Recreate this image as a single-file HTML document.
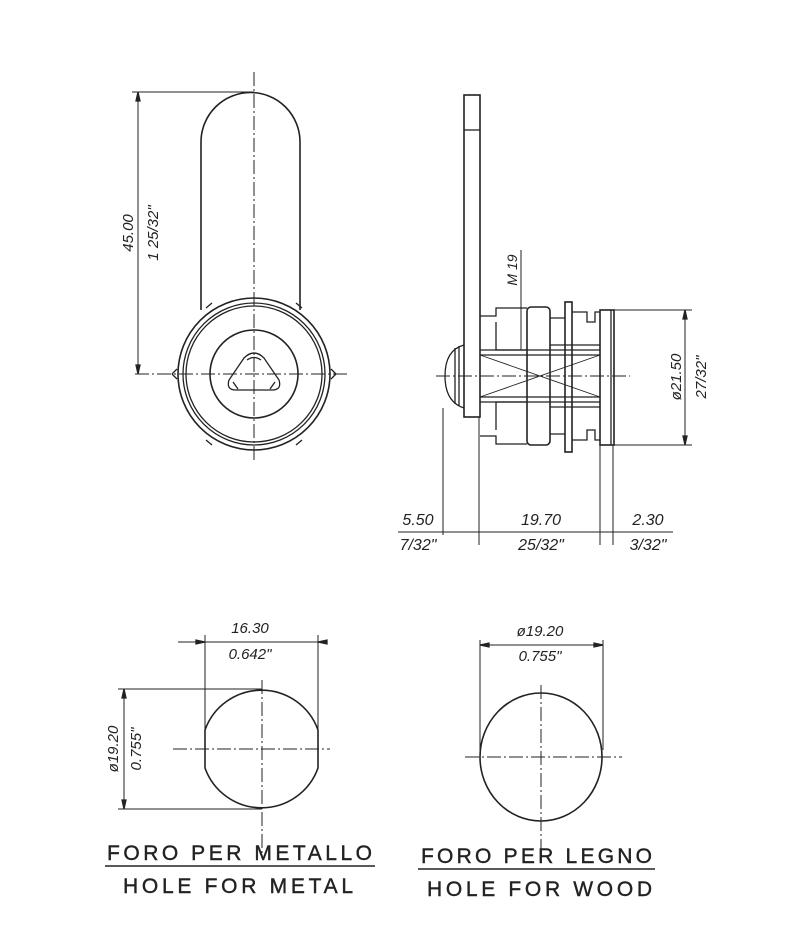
<!DOCTYPE html>
<html><head><style>body{margin:0;background:#fff}svg{display:block}text{font-family:"Liberation Sans",sans-serif;fill:#222}</style></head>
<body>
<svg width="800" height="950" viewBox="0 0 800 950" xmlns="http://www.w3.org/2000/svg" fill="none" stroke="#222" stroke-width="1.3">
<!-- LEFT FRONT VIEW -->
<g>
<path d="M201 310 V142 A49.5 49.5 0 0 1 300 142 V310" stroke-width="1.6"/>
<circle cx="254" cy="374" r="76" stroke-width="1.6"/>
<circle cx="254" cy="374" r="71"/>
<circle cx="254" cy="374" r="68"/>
<circle cx="254" cy="374" r="44" stroke-width="1.6"/>
<path d="M244 358 L229 380 Q226 390 236 390 L272 390 Q282 390 279 380 L264 358 Q254 348 244 358Z"/>
<path d="M233 382 L238 389 M275 382 L270 389 M247 360 Q254 355 261 360"/>
<path d="M172 374 l5 -5 M172 374 l5 5 M336 374 l-5 -5 M336 374 l-5 5"/>
<path d="M212 303 l-6 5 M296 303 l6 5 M212 445 l-6 -5 M296 445 l6 -5"/>
<line x1="254" y1="72" x2="254" y2="462" stroke-dasharray="14 3 2 3" stroke-width="1"/>
<line x1="135" y1="374" x2="348" y2="374" stroke-dasharray="14 3 2 3" stroke-width="1"/>
<line x1="132" y1="92" x2="254" y2="92" stroke-width="1"/>
<line x1="138" y1="92" x2="138" y2="374" stroke-width="1"/>
<path d="M138 92 l-2 9 h4z M138 374 l-2 -9 h4z" fill="#222"/>
<text transform="translate(133 233) rotate(-90)" font-size="15" font-style="italic" text-anchor="middle" stroke="none">45.00</text>
<text transform="translate(158 233) rotate(-90)" font-size="15" font-style="italic" text-anchor="middle" stroke="none">1 25/32"</text>
</g>
<!-- SIDE VIEW -->
<g>
<rect x="464" y="95" width="16" height="322" stroke-width="1.6"/>
<line x1="464" y1="130" x2="480" y2="130"/>
<path d="M464 345 Q445 350 445 376 Q445 402 464 408"/>
<path d="M455 348 V404 M459 346 V406"/>
<path d="M480 316 H496 V308 H527 M480 436 H496 V444 H527"/>
<path d="M496 322 V350 H527 M496 430 V402 H527"/>
<rect x="527" y="307" width="23" height="138" rx="4" stroke-width="1.6"/>
<rect x="565" y="302" width="7" height="150" stroke-width="1.6"/>
<path d="M550 318 H565 M550 434 H565"/>
<path d="M572 312 H587 V322 H595 V312 H600 M572 440 H587 V430 H595 V440 H600"/>
<rect x="600" y="310" width="14" height="135" stroke-width="1.6"/>
<line x1="611" y1="310" x2="611" y2="445"/>
<path d="M480 350 H600 M480 355 H600 M480 397 H600 M480 402 H600 M550 345 H600 M550 407 H600"/>
<path d="M480 355 L600 397 M480 397 L600 355" stroke-width="0.9"/>
<line x1="436" y1="376" x2="630" y2="376" stroke-dasharray="14 3 2 3" stroke-width="1"/>
<line x1="521" y1="250" x2="521" y2="350" stroke-width="1"/>
<text transform="translate(517 270) rotate(-90)" font-size="14" font-style="italic" text-anchor="middle" stroke="none">M 19</text>
<path d="M614 310 H692 M614 445 H692 M685 310 V445" stroke-width="1"/>
<path d="M685 310 l-2 9 h4z M685 445 l-2 -9 h4z" fill="#222"/>
<text transform="translate(681 377) rotate(-90)" font-size="15" font-style="italic" text-anchor="middle" stroke="none">ø21.50</text>
<text transform="translate(706 377) rotate(-90)" font-size="15" font-style="italic" text-anchor="middle" stroke="none">27/32"</text>
<path d="M443 408 V535 M479 417 V545 M600 445 V545 M613 445 V545" stroke-width="1"/>
<path d="M398 532 H673" stroke-width="1"/>
<text x="418" y="525" font-size="16" font-style="italic" text-anchor="middle" stroke="none">5.50</text>
<text x="418" y="550" font-size="16" font-style="italic" text-anchor="middle" stroke="none">7/32"</text>
<text x="541" y="525" font-size="16" font-style="italic" text-anchor="middle" stroke="none">19.70</text>
<text x="541" y="550" font-size="16" font-style="italic" text-anchor="middle" stroke="none">25/32"</text>
<text x="648" y="525" font-size="16" font-style="italic" text-anchor="middle" stroke="none">2.30</text>
<text x="648" y="550" font-size="16" font-style="italic" text-anchor="middle" stroke="none">3/32"</text>
</g>
<!-- HOLE FOR METAL -->
<g>
<path d="M205 730 A60 60 0 0 1 318 730 V768 A60 60 0 0 1 205 768 Z" stroke-width="1.6"/>
<line x1="262" y1="680" x2="262" y2="855" stroke-dasharray="14 3 2 3" stroke-width="1"/>
<line x1="173" y1="749" x2="330" y2="749" stroke-dasharray="14 3 2 3" stroke-width="1"/>
<path d="M205 760 V635 M318 740 V635 M178 642 H327" stroke-width="1"/>
<path d="M205 642 l-9 -2 v4z M318 642 l9 -2 v4z" fill="#222"/>
<text x="250" y="633" font-size="15" font-style="italic" text-anchor="middle" stroke="none">16.30</text>
<text x="250" y="659" font-size="15" font-style="italic" text-anchor="middle" stroke="none">0.642"</text>
<path d="M118 689 H262 M118 809 H262 M124 689 V809" stroke-width="1"/>
<path d="M124 689 l-2 9 h4z M124 809 l-2 -9 h4z" fill="#222"/>
<text transform="translate(118 749) rotate(-90)" font-size="15" font-style="italic" text-anchor="middle" stroke="none">ø19.20</text>
<text transform="translate(141 749) rotate(-90)" font-size="15" font-style="italic" text-anchor="middle" stroke="none">0.755"</text>
<text x="107" y="860" font-size="21" stroke="#222" stroke-width="0.4" textLength="265" lengthAdjust="spacing">FORO PER METALLO</text>
<line x1="105" y1="866" x2="375" y2="866" stroke-width="1.4"/>
<text x="123" y="893" font-size="21" stroke="#222" stroke-width="0.4" textLength="230" lengthAdjust="spacing">HOLE FOR METAL</text>
</g>
<!-- HOLE FOR WOOD -->
<g>
<ellipse cx="541" cy="757" rx="61" ry="64" stroke-width="1.6"/>
<line x1="541" y1="685" x2="541" y2="856" stroke-dasharray="14 3 2 3" stroke-width="1"/>
<line x1="465" y1="757" x2="622" y2="757" stroke-dasharray="14 3 2 3" stroke-width="1"/>
<path d="M480 750 V640 M603 750 V640 M480 645 H603" stroke-width="1"/>
<path d="M480 645 l9 -2 v4z M603 645 l-9 -2 v4z" fill="#222"/>
<text x="540" y="636" font-size="15" font-style="italic" text-anchor="middle" stroke="none">ø19.20</text>
<text x="540" y="661" font-size="15" font-style="italic" text-anchor="middle" stroke="none">0.755"</text>
<text x="421" y="863" font-size="21" stroke="#222" stroke-width="0.4" textLength="231" lengthAdjust="spacing">FORO PER LEGNO</text>
<line x1="418" y1="869" x2="655" y2="869" stroke-width="1.4"/>
<text x="427" y="896" font-size="21" stroke="#222" stroke-width="0.4" textLength="225" lengthAdjust="spacing">HOLE FOR WOOD</text>
</g>
</svg>
</body></html>
